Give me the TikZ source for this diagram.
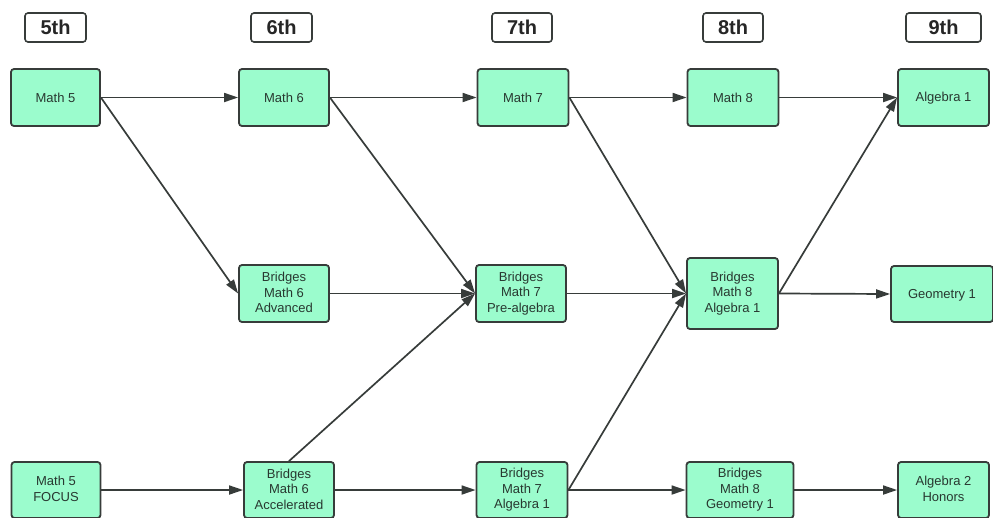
\documentclass[tikz,border=0pt]{standalone}
\usepackage{fontspec}
\setmainfont{Liberation Sans}
\usetikzlibrary{arrows.meta}
\definecolor{mint}{RGB}{155,252,205}
\definecolor{edge}{RGB}{55,60,58}
\definecolor{txt}{RGB}{40,56,48}
\tikzset{
  course/.style={draw=edge, line width=1.8pt, fill=mint, rounded corners=3pt, inner sep=0pt,
    minimum height=57pt, align=center, text=txt, font=\fontsize{13}{15.5}\selectfont,
    execute at begin node=\rule{0pt}{11pt}, execute at end node=\rule[-2pt]{0pt}{2pt}},
  grade/.style={draw=edge, line width=1.6pt, fill=white, rounded corners=3pt, inner sep=0pt,
    minimum height=29pt, minimum width=61pt, font=\fontsize{20}{22}\selectfont\bfseries, text=black!85},
  flow/.style={draw=edge, line width=1.7pt, -{Triangle[length=14pt,width=9pt]}}
}
\begin{document}
\begin{tikzpicture}[x=1pt,y=-1pt]
\useasboundingbox (0,0) rectangle (993,517);
\clip (0,0) rectangle (993,517);
% grade headers
\node[grade] (g5) at (55.5,27.5) {5th};
\node[grade] (g6) at (281.5,27.5) {6th};
\node[grade, minimum width=60pt] (g7) at (522,27.5) {7th};
\node[grade, minimum width=60pt] (g8) at (733,27.5) {8th};
\node[grade, minimum width=75pt] (g9) at (943.5,27.5) {9th};
% row 1
\node[course, minimum width=89pt] (m5) at (55.5,97.5) {Math 5};
\node[course, minimum width=90pt] (m6) at (284,97.5) {Math 6};
\node[course, minimum width=91pt] (m7) at (523,97.5) {Math 7};
\node[course, minimum width=91pt] (m8) at (733,97.5) {Math 8};
\node[course, minimum width=91pt] (a1) at (943.5,97.5) {Algebra 1};
% row 2
\node[course, minimum width=90pt] (b6a) at (284,293.5) {Bridges\\Math 6\\Advanced};
\node[course, minimum width=90pt] (b7p) at (521,293.5) {Bridges\\Math 7\\Pre-algebra};
\node[course, minimum width=91pt, minimum height=71pt] (b8a) at (732.5,293.5) {Bridges\\Math 8\\Algebra 1};
\node[course, minimum width=102pt, minimum height=56pt] (geo) at (942,294) {Geometry 1};
% row 3
\node[course, minimum width=89pt, minimum height=56pt] (m5f) at (56,490) {Math 5\\FOCUS};
\node[course, minimum width=90pt, minimum height=56pt] (b6c) at (289,490) {Bridges\\Math 6\\Accelerated};
\node[course, minimum width=91pt, minimum height=56pt] (b7a) at (522,490) {Bridges\\Math 7\\Algebra 1};
\node[course, minimum width=107pt, minimum height=56pt] (b8g) at (740,490) {Bridges\\Math 8\\Geometry 1};
\node[course, minimum width=91pt, minimum height=56pt] (a2h) at (943.5,490) {Algebra 2\\Honors};
% connectors
\draw[flow] (m5.east) -- (m6.west);
\draw[flow] (m5.east) -- (b6a.west);
\draw[flow] (m6.east) -- (m7.west);
\draw[flow] (m6.east) -- (b7p.west);
\draw[flow] (m7.east) -- (m8.west);
\draw[flow] (m7.east) -- (b8a.west);
\draw[flow] (m8.east) -- (a1.west);
\draw[flow] (b8a.east) -- (a1.west);
\draw[flow] (b6a.east) -- (b7p.west);
\draw[flow] (b7p.east) -- (b8a.west);
\draw[flow] (b8a.east) -- (geo.west);
\draw[flow] (m5f.east) -- (b6c.west);
\draw[flow] (b6c.north) -- (b7p.west);
\draw[flow] (b6c.east) -- (b7a.west);
\draw[flow] (b7a.east) -- (b8a.west);
\draw[flow] (b7a.east) -- (b8g.west);
\draw[flow] (b8g.east) -- (a2h.west);
\end{tikzpicture}
\end{document}
